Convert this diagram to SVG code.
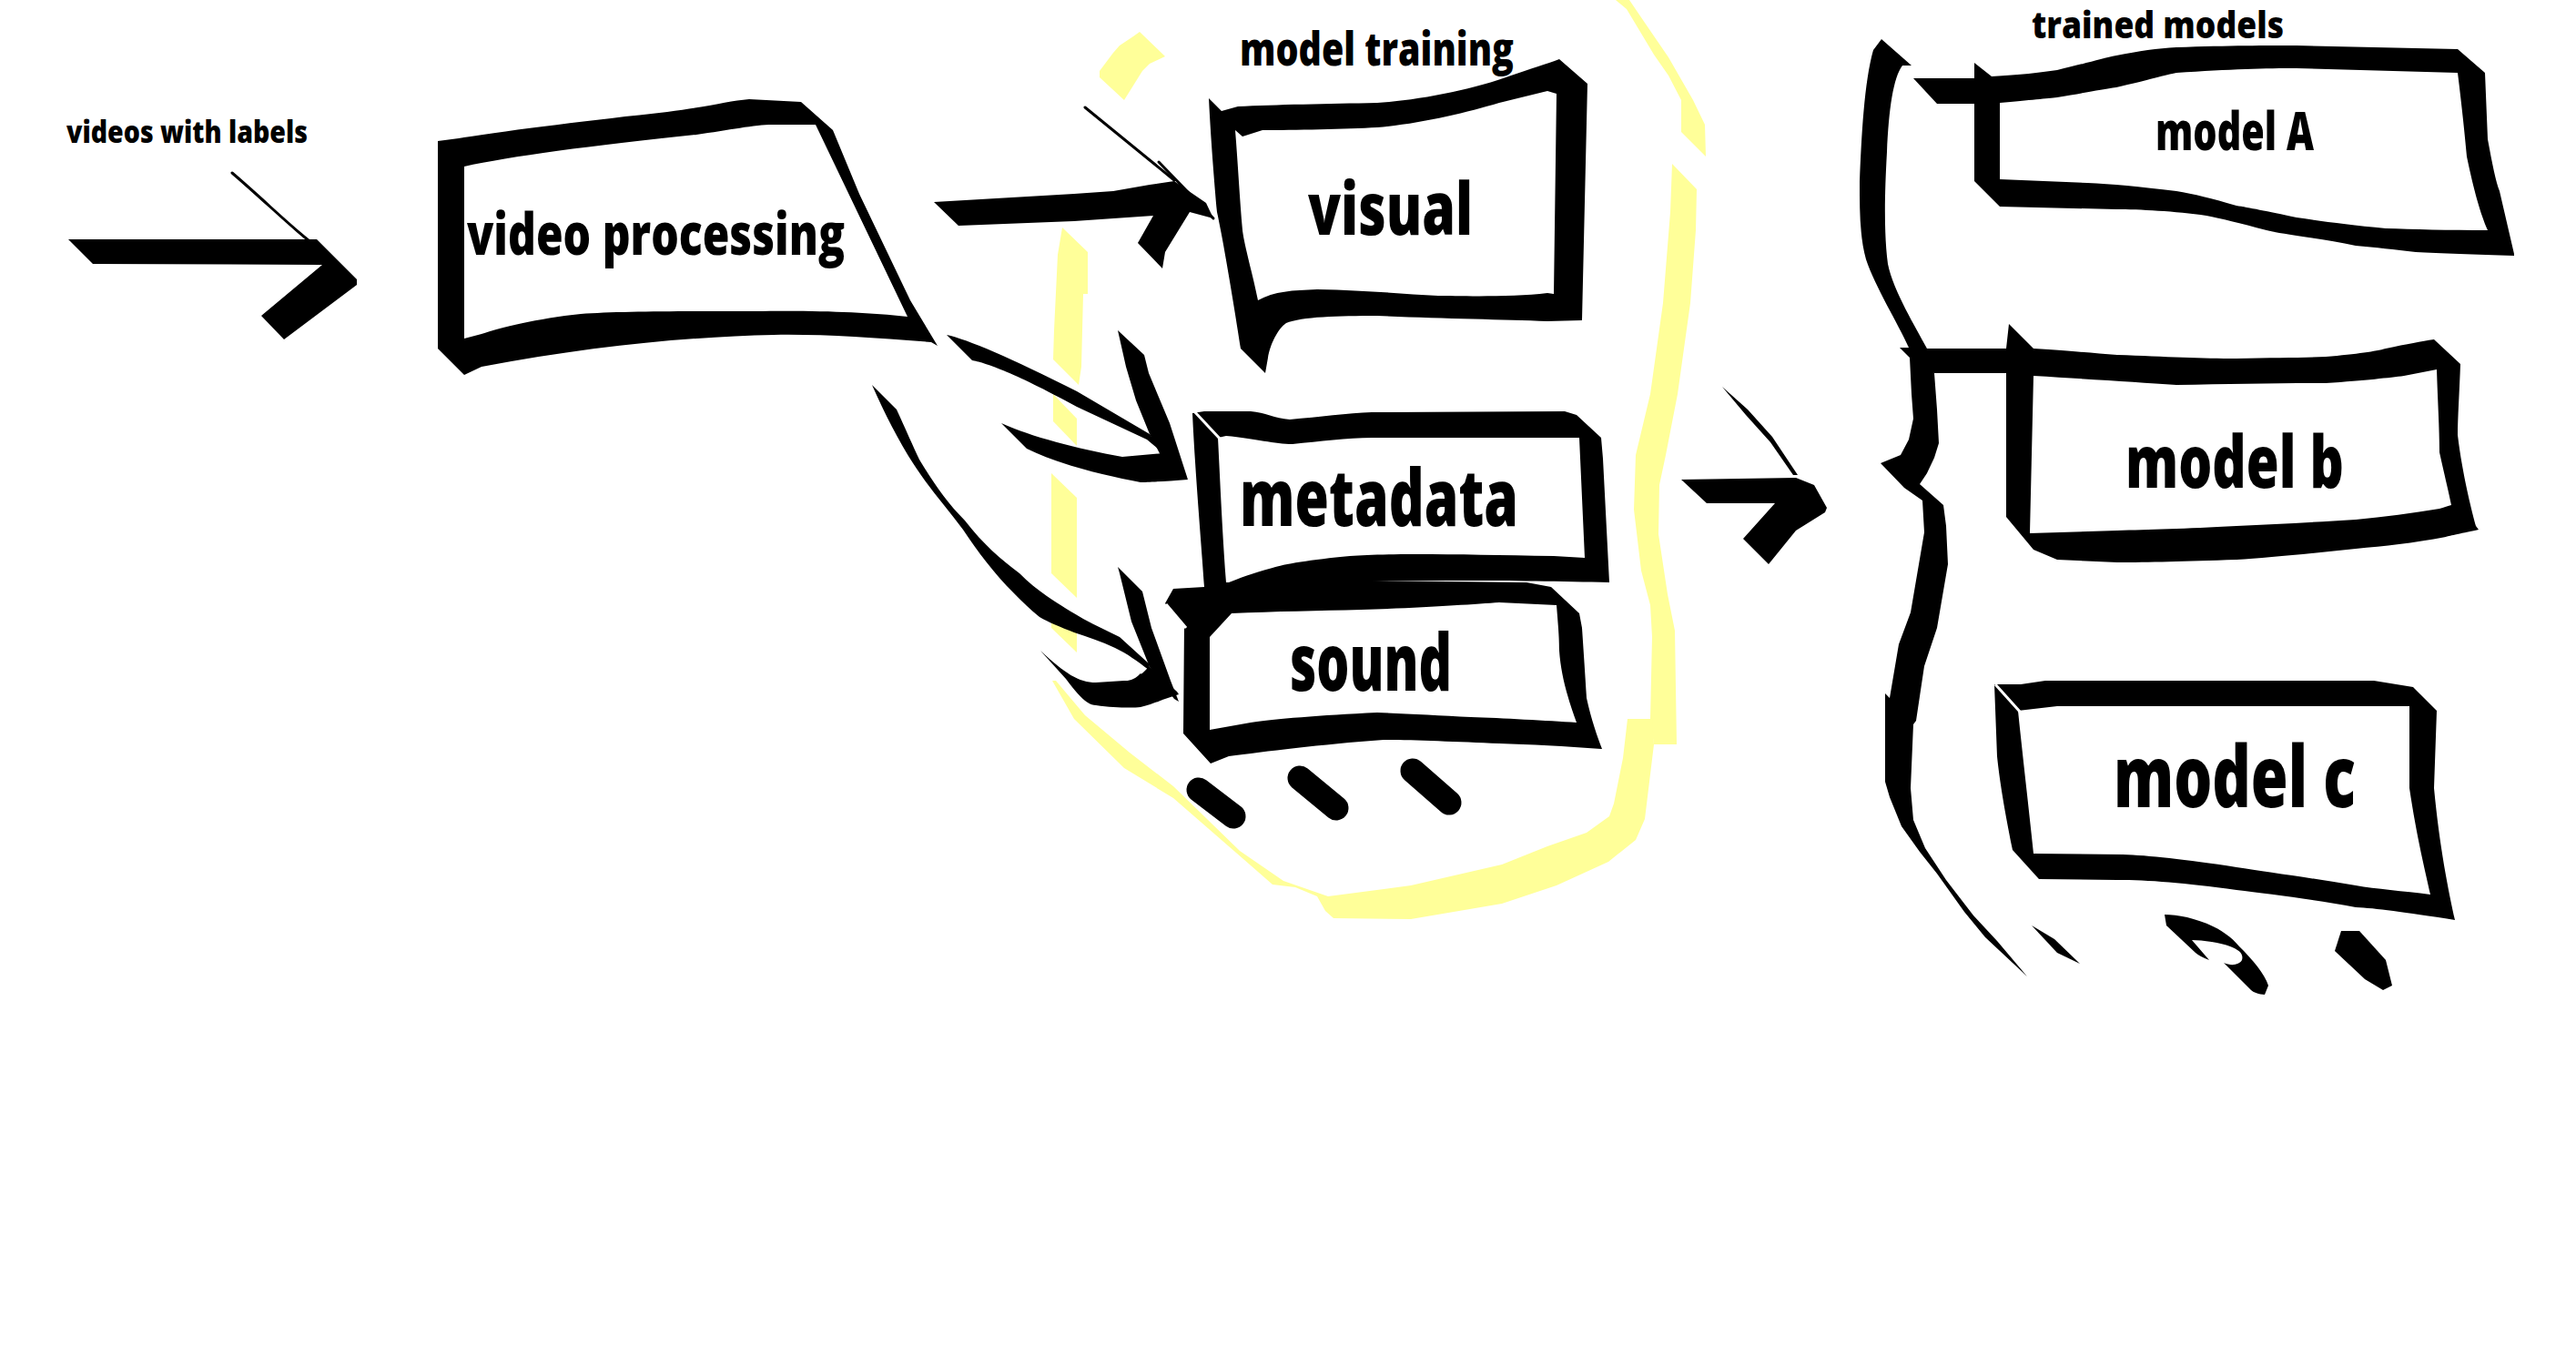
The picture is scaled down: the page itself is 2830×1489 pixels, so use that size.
<svg xmlns="http://www.w3.org/2000/svg" width="2830" height="1489" viewBox="0 0 2830 1489">
<style>
.ink{fill:#000;stroke:none}
.box{fill:#000;fill-rule:evenodd;stroke:none}
.hl{fill:#ffff99;stroke:none}
.thin{fill:none;stroke:#000;stroke-width:3;stroke-linecap:round}
.dot{fill:none;stroke:#000;stroke-width:27;stroke-linecap:round}
.gap{fill:none;stroke:#fff;stroke-width:3}
.t{font-family:"Liberation Sans Narrow","Open Sans","Liberation Sans",sans-serif;font-weight:800;fill:#000}
</style>
<rect width="2830" height="1489" fill="#fff"/>

<g id="group-model-training">
<path class="hl" d="M1252,35 L1280,62 L1263,70 L1255,78 L1235,110 L1208,85 L1208,78 L1223,58 L1230,50 L1245,40 Z"/>
<path class="hl" d="M1775,0 L1790,0 L1807,25 L1833,63 L1860,110 L1873,137 L1874,172 L1847,145 L1847,110 L1833,83 L1817,60 L1787,10 Z"/>
<path class="hl" d="M1837,180 L1864,208 L1863,253 L1857,333 L1843,433 L1830,500 L1823,533 L1822,587 L1832,653 L1840,693 L1842,818 L1817,818 L1813,790 L1815,700 L1813,665 L1803,627 L1795,560 L1797,500 L1813,433 L1827,333 L1835,233 Z"/>
<path class="hl" d="M1788,790 L1815,790 L1817,818 L1807,900 L1797,923 L1767,947 L1710,973 L1650,993 L1550,1010 L1465,1009 L1456,1001 L1447,985 L1423,975 L1398,972 L1374,951 L1289,877 L1235,844 L1180,790 L1156,748 L1160,748 L1192,786 L1241,827 L1289,864 L1362,935 L1410,968 L1459,985 L1550,973 L1650,950 L1700,930 L1743,915 L1768,897 L1773,883 L1783,833 Z"/>
<path class="hl" d="M1167,250 L1195,277 L1195,323 L1190,323 L1188,403 L1185,423 L1157,395 L1158,363 L1162,280 Z"/>
<path class="hl" d="M1157,433 L1183,460 L1183,490 L1157,463 Z"/>
<path class="hl" d="M1155,520 L1183,547 L1183,657 L1155,630 Z"/>
<path class="hl" d="M1155,662 L1183,690 L1183,717 L1155,690 Z"/>
</g>

<g id="labels">
<text class="t" x="73" y="157" font-size="34" textLength="265" lengthAdjust="spacingAndGlyphs">videos with labels</text>
<text class="t" x="1362" y="72" font-size="51" textLength="301" lengthAdjust="spacingAndGlyphs">model training</text>
<text class="t" x="2232" y="42" font-size="40" textLength="277" lengthAdjust="spacingAndGlyphs">trained models</text>
</g>

<g id="node-video-processing">
<path class="box" d="M481,155 L504,152 C560,143 650,132 733,123 C780,117 800,111 823,109 L880,112 L915,143 L944,213 L1000,330 L1030,380 L1023,376 C960,371 900,367 850,368 C760,370 650,380 529,403 L510,412 L481,383 Z M510,183 C560,172 650,160 765,148 C800,143 830,137 848,137 L896,137 L997,348 C950,343 900,341 829,342 C750,342 680,342 638,345 C590,350 550,360 529,367 L510,372 Z"/>
<text class="t" x="513" y="280" font-size="64" textLength="415" lengthAdjust="spacingAndGlyphs">video processing</text>
</g>

<g id="node-visual">
<path class="box" d="M1328,108 L1342,122 L1360,117 C1400,115 1460,114 1513,113 C1560,110 1620,98 1660,83 C1680,76 1700,70 1713,65 L1744,92 L1738,352 L1700,353 C1650,351 1580,350 1513,347 C1470,347 1430,348 1413,355 C1403,362 1395,380 1393,393 L1390,410 L1363,383 C1358,350 1345,270 1337,233 C1334,200 1330,150 1328,108 Z M1357,143 L1365,150 L1387,143 C1420,143 1480,142 1513,140 C1560,136 1610,124 1647,113 L1700,100 L1710,103 L1707,323 L1700,322 C1660,327 1600,325 1580,325 C1540,323 1500,319 1447,318 C1420,319 1400,320 1382,330 C1376,300 1367,270 1365,253 C1362,220 1360,180 1357,143 Z"/>
<text class="t" x="1437" y="258" font-size="80" textLength="181" lengthAdjust="spacingAndGlyphs">visual</text>
</g>

<g id="node-metadata">
<path class="box" d="M1323,452 L1374,452 C1390,453 1400,460 1417,461 C1450,458 1480,454 1507,453 L1719,452 L1732,456 L1759,481 L1761,504 L1768,640 C1720,639 1650,638 1616,638 C1570,638 1530,638 1526,638 C1490,640 1460,642 1453,643 L1350,645 L1323,645 C1320,600 1313,520 1310,454 Z M1338,481 L1347,479 C1380,482 1400,488 1420,488 C1450,485 1480,481 1507,481 L1735,481 L1741,613 L1707,611 C1650,610 1600,609 1556,609 C1520,609 1500,610 1483,611 C1440,615 1410,620 1398,624 C1375,630 1360,636 1350,640 L1347,640 C1343,590 1340,520 1338,481 Z"/>
<path class="gap" d="M1312,452 L1340,482"/>
<text class="t" x="1362" y="578" font-size="86" textLength="306" lengthAdjust="spacingAndGlyphs">metadata</text>
</g>

<g id="node-sound">
<path class="box" d="M1289,647 L1323,645 C1400,641 1450,639 1495,638 L1677,640 L1704,645 L1735,674 L1738,690 C1740,720 1742,750 1743,767 C1748,790 1755,810 1760,823 L1759,823 C1720,820 1680,818 1647,817 C1600,815 1550,813 1520,813 C1450,818 1390,826 1350,831 L1330,839 L1300,806 L1301,686 L1280,663 Z M1329,700 L1353,674 C1400,672 1450,671 1495,670 C1560,668 1620,664 1647,662 L1710,665 C1712,690 1713,700 1713,715 C1715,745 1725,775 1732,794 C1700,792 1650,789 1616,788 C1580,786 1540,784 1513,783 C1450,786 1400,790 1374,794 L1329,802 Z"/>
<path class="gap" d="M1281,664 L1303,690"/>
<text class="t" x="1417" y="759" font-size="86" textLength="178" lengthAdjust="spacingAndGlyphs">sound</text>
<path class="dot" d="M1317,868 L1355,897"/>
<path class="dot" d="M1428,855 L1468,888"/>
<path class="dot" d="M1552,847 L1592,882"/>
</g>

<g id="node-model-a">
<path class="box" d="M2102,86 L2169,86 L2169,69 L2188,84 C2220,82 2240,80 2260,77 C2290,70 2310,64 2325,61 C2350,56 2370,53 2391,52 C2450,50 2490,50 2523,50 L2700,54 L2730,80 L2733,153 C2738,180 2742,200 2746,210 L2762,279 L2762,281 C2720,280 2680,278 2654,277 C2630,274 2610,272 2588,270 C2550,262 2510,258 2490,253 C2460,245 2440,240 2424,237 C2390,232 2350,230 2325,230 L2197,227 L2169,199 L2169,114 L2128,114 Z M2197,113 C2230,110 2250,108 2260,107 C2290,102 2310,98 2325,96 C2360,88 2380,82 2391,80 C2450,76 2490,75 2523,75 L2700,80 C2705,120 2708,150 2710,172 C2718,210 2725,235 2733,253 C2690,253 2650,252 2621,251 C2580,247 2550,243 2523,239 C2490,232 2470,228 2457,226 C2430,218 2410,213 2391,210 C2350,205 2320,202 2293,201 L2197,197 Z"/>
<text class="t" x="2368" y="165" font-size="58" textLength="174" lengthAdjust="spacingAndGlyphs">model A</text>
</g>

<g id="node-model-b">
<path class="box" d="M2089,383 L2204,383 L2207,356 L2234,383 C2280,386 2300,388 2326,390 C2380,392 2420,394 2457,394 C2500,393 2530,393 2555,392 C2590,389 2610,386 2621,383 C2645,378 2660,375 2674,373 L2703,400 C2702,430 2700,460 2700,478 C2705,520 2715,560 2720,578 L2723,582 C2700,587 2690,589 2687,590 C2650,597 2620,600 2588,603 C2540,608 2490,613 2457,615 C2400,617 2360,618 2326,618 L2260,615 L2234,604 L2204,568 L2204,410 L2125,410 Z M2234,413 C2300,417 2350,420 2391,423 C2450,422 2500,421 2555,421 C2600,418 2625,415 2641,413 L2677,406 C2678,440 2680,470 2680,497 C2685,520 2690,540 2693,555 C2688,556 2685,558 2680,559 C2650,564 2620,568 2588,571 C2540,574 2500,576 2457,578 C2400,581 2360,582 2326,583 L2230,586 Z"/>
<text class="t" x="2335" y="536" font-size="80" textLength="240" lengthAdjust="spacingAndGlyphs">model b</text>
</g>

<g id="node-model-c">
<path class="box" d="M2191,752 L2220,752 L2247,748 L2608,748 L2651,755 L2677,781 L2674,866 C2680,930 2690,980 2697,1011 C2640,1002 2610,998 2588,997 C2540,988 2490,982 2457,978 C2400,970 2360,967 2326,967 L2240,966 L2211,934 C2200,880 2196,850 2194,831 Z M2217,781 L2260,776 L2647,776 L2647,866 C2655,920 2665,960 2670,983 C2640,979 2610,977 2588,973 C2540,965 2490,958 2457,953 C2400,944 2360,940 2332,939 L2234,938 C2228,880 2222,830 2217,781 Z"/>
<path class="gap" d="M2192,752 L2219,782"/>
<text class="t" x="2322" y="887" font-size="94" textLength="266" lengthAdjust="spacingAndGlyphs">model c</text>
<path class="ink" d="M2378,1005 C2400,1005 2440,1015 2460,1040 C2475,1055 2488,1070 2492,1083 L2488,1093 C2482,1093 2475,1090 2473,1088 L2443,1058 C2452,1062 2460,1060 2463,1055 C2465,1048 2460,1044 2450,1040 C2440,1036 2420,1033 2408,1033 L2427,1055 C2420,1052 2415,1050 2412,1047 L2380,1017 Z"/>
<path class="ink" d="M2572,1023 L2592,1023 L2621,1055 L2628,1083 L2618,1088 L2598,1076 L2565,1045 Z"/>
</g>

<g id="connectors">
<path class="ink" d="M75,263 L348,263 L392,307 L392,313 L312,373 L287,347 L354,291 L102,290 Z"/>
<path class="thin" d="M255,190 C290,220 315,245 340,265"/>

<path class="ink" d="M1026,222 L1180,213 L1223,210 L1263,203 L1290,199 L1325,223 L1333,240 L1307,233 L1280,277 L1277,295 L1250,267 L1267,237 L1180,243 L1053,248 Z"/>
<path class="thin" d="M1192,118 L1290,198"/>
<path class="thin" d="M1273,178 L1333,240"/>

<path class="ink" d="M1040,368 C1063,373 1110,393 1183,430 L1263,477 L1278,498 L1260,483 L1183,447 C1110,407 1080,398 1068,396 Z"/>
<path class="ink" d="M1228,363 L1257,390 L1262,410 L1285,465 L1305,527 L1280,510 L1263,477 L1248,440 L1237,403 Z"/>
<path class="ink" d="M1100,465 C1133,480 1183,493 1233,502 L1278,498 L1305,527 C1280,529 1260,530 1253,530 C1217,523 1167,512 1128,493 Z"/>

<path class="ink" d="M958,423 L985,450 C995,472 1003,490 1010,505 C1025,530 1040,552 1060,572 C1080,598 1100,615 1120,630 C1130,640 1140,648 1150,655 C1165,665 1178,673 1190,680 C1205,688 1218,694 1230,700 L1263,730 L1262,736 C1250,727 1238,718 1225,712 C1210,705 1195,700 1180,695 C1165,689 1152,684 1142,678 C1132,670 1124,662 1114,652 C1092,630 1074,606 1058,582 C1042,560 1022,538 1007,515 C990,490 972,455 958,423 Z"/>
<path class="ink" d="M1228,623 L1255,650 L1265,690 L1286,748 L1295,771 L1290,768 L1263,733 L1243,683 L1230,630 Z"/>
<path class="ink" d="M1143,715 L1171,746 C1185,765 1195,775 1204,775 C1225,778 1245,778 1253,777 C1265,774 1275,770 1277,769 L1295,763 L1293,760 L1262,732 C1258,738 1253,742 1253,740 C1245,748 1240,748 1235,748 L1204,750 C1185,750 1170,740 1143,715 Z"/>

<path class="ink" d="M1847,527 L1973,525 L1993,533 L2007,558 L2005,563 L1973,583 L1943,620 L1915,592 L1950,553 L1875,553 Z"/>
<path class="ink" d="M1892,425 L1920,450 L1947,480 L1975,522 L1970,522 L1945,486 L1918,456 Z"/>

<path class="ink" d="M2067,43 L2100,72 L2090,72 C2080,85 2075,120 2073,167 C2070,220 2070,260 2074,290 C2080,320 2105,360 2117,383 L2097,382 C2085,355 2060,315 2050,285 C2043,260 2043,230 2043,200 C2045,150 2048,90 2058,55 Z"/>
<path class="ink" d="M2087,382 L2115,382 L2125,410 L2128,450 L2130,487 L2125,503 L2117,520 L2109,532 L2135,555 L2138,578 L2140,620 L2128,690 L2114,732 L2105,792 L2102,796 L2099,866 L2102,901 L2115,932 L2138,967 L2168,1006 L2194,1034 L2227,1073 L2181,1030 L2158,1002 L2128,960 L2109,936 L2089,908 L2076,876 L2071,859 L2071,762 L2076,767 L2086,708 L2099,673 L2114,585 L2112,550 L2092,536 L2066,509 L2088,500 L2097,483 L2102,460 L2100,433 L2098,393 Z"/>
<path class="ink" d="M2232,1017 L2257,1032 L2285,1059 L2260,1047 Z"/>
</g>
</svg>
